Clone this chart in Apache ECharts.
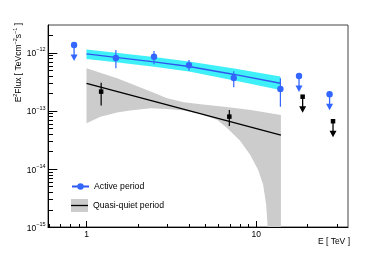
<!DOCTYPE html>
<html>
<head>
<meta charset="utf-8">
<script src="https://cdn.jsdelivr.net/npm/echarts@6/dist/echarts.min.js"></script>
<style>html,body{margin:0;padding:0;background:#fff}#c{width:374px;height:253px}</style>
</head>
<body>
<div id="c"></div>
<script>
// ---------------- data ----------------
const xTickValues = [1, 10];
const xTickLabels = ['1', '10'];
const xMinorTicks = [0.6, 0.7, 0.8, 0.9, 2, 3, 4, 5, 6, 7, 8, 9, 20, 30];
const yTickValues = [1e-15, 1e-14, 1e-13, 1e-12];
const yTickExponents = ['\u221215', '\u221214', '\u221213', '\u221212'];
const yMinorTicks = [2e-15, 3e-15, 4e-15, 5e-15, 6e-15, 7e-15, 8e-15, 9e-15,
                     2e-14, 3e-14, 4e-14, 5e-14, 6e-14, 7e-14, 8e-14, 9e-14,
                     2e-13, 3e-13, 4e-13, 5e-13, 6e-13, 7e-13, 8e-13, 9e-13,
                     2e-12];

// Active period: flux points with errors
const activeE       = [1.49, 2.50, 4.02, 7.38, 13.9];
const activeFlux    = [8.11e-13, 8.54e-13, 6.07e-13, 3.67e-13, 2.38e-13];
const activeErrLow  = [5.40e-13, 6.33e-13, 4.91e-13, 2.55e-13, 1.18e-13];
const activeErrHigh = [1.11e-12, 1.07e-12, 7.49e-13, 4.79e-13, 3.63e-13];
// Active period: upper limits
const activeUlE    = [0.845, 17.9, 27.1];
const activeUlFlux = [1.355e-12, 3.98e-13, 1.93e-13];
// Active period: fitted spectrum and its band
const activeFitE     = [1, 1.49, 2.50, 4.02, 7.43, 13.9];
const activeFitFlux  = [9.58e-13, 8.33e-13, 6.98e-13, 5.79e-13, 4.22e-13, 2.98e-13];
const activeBandHigh = [1.135e-12, 1.0e-12, 8.43e-13, 7.06e-13, 5.35e-13, 3.90e-13];
const activeBandLow  = [7.80e-13, 6.84e-13, 5.73e-13, 4.76e-13, 3.33e-13, 2.29e-13];

// Quasi-quiet period: flux points with errors
const quietE       = [1.22, 6.95];
const quietFlux    = [2.14e-13, 7.94e-14];
const quietErrLow  = [1.23e-13, 5.5e-14];
const quietErrHigh = [3.05e-13, 1.035e-13];
// Quasi-quiet period: upper limits
const quietUlE    = [18.8, 28.4];
const quietUlFlux = [1.75e-13, 6.62e-14];
// Quasi-quiet period: fitted spectrum and its band
const quietFitE    = [1, 14];
const quietFitFlux = [2.98e-13, 3.81e-14];
const quietBandHighE = [1, 1.516, 2.39, 2.99, 3.76, 4.71, 6.47, 9.30, 14.0];
const quietBandHigh  = [5.40e-13, 3.63e-13, 2.14e-13, 1.65e-13, 1.41e-13, 1.30e-13, 1.18e-13, 1.035e-13, 8.50e-14];
const quietBandLowE  = [1, 1.21, 1.516, 1.8, 2.39, 2.99, 3.76, 4.71, 5.91, 6.74, 8.04, 9.22, 10.27, 11.0, 11.46, 11.69, 11.85, 14.0];
const quietBandLow   = [6.12e-14, 7.94e-14, 9.31e-14, 1.016e-13, 1.11e-13, 1.079e-13, 1.008e-13, 8.85e-14, 6.98e-14, 5.08e-14, 3.04e-14, 1.75e-14, 9.64e-15, 5.33e-15, 2.42e-15, 1.01e-15, 1e-17, 1e-17];

// ---------------- styling ----------------
const FONT = "'Liberation Sans', Arial, Helvetica, sans-serif";
const BLUE = '#3366ff';
const BLUE_LINE = '#3056ee';
const CYAN = '#40f0f8';
const GRAY = '#cccccc';
const X_MIN = 0.593, X_MAX = 34.8, Y_MIN = 1e-15, Y_MAX = 3e-12;
const X_MID = 4, Y_MID = 1e-13;   // in-range anchor for the other coordinate of a tick

function idxOf(arr, v) {
  return arr.findIndex(t => Math.abs(Math.log10(t) - Math.log10(v)) < 1e-6);
}

function bandRender(topE, topF, lowE, lowF, fill) {
  return function (params, api) {
    if (params.dataIndex !== 0) return null;
    const pts = [];
    for (let i = 0; i < topE.length; i++) pts.push(api.coord([topE[i], topF[i]]));
    for (let i = lowE.length - 1; i >= 0; i--) pts.push(api.coord([lowE[i], lowF[i]]));
    const cs = params.coordSys;
    return { type: 'polygon', shape: { points: pts }, style: { fill: fill },
      clipPath: { type: 'rect', shape: { x: cs.x, y: cs.y, width: cs.width, height: cs.height } } };
  };
}

// axis tick marks drawn inward from the axes, positioned by the axes' own scales
function tickRender(dir, len) {
  return function (params, api) {
    const cs = params.coordSys;
    const p = api.coord([api.value(0), api.value(1)]);
    if (dir === 'x') {
      const x = Math.round(p[0]) + 0.5;
      const y0 = cs.y + cs.height;
      return { type: 'line', shape: { x1: x, y1: y0, x2: x, y2: y0 - len }, style: { stroke: '#000', lineWidth: 1 } };
    }
    const y = Math.round(p[1]) + 0.5;
    return { type: 'line', shape: { x1: cs.x, y1: y, x2: cs.x + len, y2: y }, style: { stroke: '#000', lineWidth: 1 } };
  };
}

function markerEl(kind, x, y, color) {
  if (kind === 'circle') return { type: 'circle', shape: { cx: x, cy: y, r: 3.2 }, style: { fill: color } };
  return { type: 'rect', shape: { x: x - 2.25, y: y - 2.25, width: 4.5, height: 4.5 }, style: { fill: color } };
}

function errRender(kind, color) {
  return function (params, api) {
    const p = api.coord([api.value(0), api.value(1)]);
    const lo = api.coord([api.value(0), api.value(2)]);
    const hi = api.coord([api.value(0), api.value(3)]);
    return { type: 'group', children: [
      { type: 'line', shape: { x1: p[0], y1: hi[1], x2: p[0], y2: lo[1] }, style: { stroke: color, lineWidth: 1.2 } },
      markerEl(kind, p[0], p[1], color) ] };
  };
}

function ulRender(kind, color) {
  return function (params, api) {
    const p = api.coord([api.value(0), api.value(1)]);
    const x = p[0], y = p[1];
    return { type: 'group', children: [
      { type: 'line', shape: { x1: x, y1: y, x2: x, y2: y + 11 }, style: { stroke: color, lineWidth: 1.3 } },
      { type: 'polygon', shape: { points: [[x - 3.5, y + 9.5], [x + 3.5, y + 9.5], [x, y + 16]] }, style: { fill: color } },
      markerEl(kind, x, y, color) ] };
  };
}

const quietIcon = 'image://data:image/svg+xml;charset=utf-8,' + encodeURIComponent(
  "<svg xmlns='http://www.w3.org/2000/svg' width='17' height='13'>" +
  "<rect x='0' y='0' width='17' height='13' fill='#cccccc'/>" +
  "<line x1='0' y1='6.5' x2='17' y2='6.5' stroke='#000000' stroke-width='1.3'/></svg>");

const chart = echarts.init(document.getElementById('c'), null, { renderer: 'canvas' });
const legendText = { fontSize: 8.7, color: '#000', fontFamily: FONT };

const option = {
  animation: false,
  backgroundColor: '#ffffff',
  grid: { left: 48, right: 26, top: 25, bottom: 26, show: true, borderColor: '#444', borderWidth: 1, backgroundColor: 'transparent' },
  legend: [
    { left: 71, top: 182, orient: 'vertical', padding: 0, itemWidth: 17, itemHeight: 8, selectedMode: false,
      data: ['Active period'], textStyle: legendText },
    { left: 71, top: 199, orient: 'vertical', padding: 0, itemWidth: 17, itemHeight: 13, selectedMode: false,
      data: [{ name: 'Quasi-quiet period', icon: quietIcon }], textStyle: legendText }
  ],
  xAxis: {
    type: 'log', logBase: 10, min: X_MIN, max: X_MAX, position: 'bottom',
    axisLine: { show: true, onZero: false, lineStyle: { color: '#000', width: 1 } },
    axisTick: { show: false },
    axisLabel: { show: true, customValues: xTickValues, margin: 3.5, fontSize: 8.5, color: '#000', fontFamily: FONT,
      formatter: v => xTickLabels[idxOf(xTickValues, v)] },
    splitLine: { show: false }, minorTick: { show: false },
    name: 'E [ TeV ]', nameLocation: 'end', nameGap: 2,
    nameTextStyle: { align: 'right', verticalAlign: 'top', padding: [10, 0, 0, 0], fontSize: 8.5, color: '#000', fontFamily: FONT }
  },
  yAxis: {
    type: 'log', logBase: 10, min: Y_MIN, max: Y_MAX, position: 'left',
    axisLine: { show: true, onZero: false, lineStyle: { color: '#000', width: 1 } },
    axisTick: { show: false },
    axisLabel: {
      show: true, customValues: yTickValues, margin: 2.5, color: '#000', fontFamily: FONT,
      formatter: v => '{b|10}{s|' + yTickExponents[idxOf(yTickValues, v)] + '}',
      rich: {
        b: { fontSize: 8.5, fontFamily: FONT, color: '#000', lineHeight: 9, padding: [4.6, 0, 0, 0], verticalAlign: 'bottom' },
        s: { fontSize: 5.5, fontFamily: FONT, color: '#000', lineHeight: 11.6, verticalAlign: 'top' }
      }
    },
    splitLine: { show: false }
  },
  graphic: [
    { type: 'text', x: 18.5, y: 23, rotation: Math.PI / 2,
      style: { text: 'E{s|2}Flux [ TeVcm{s|\u22122}s{s|\u22121} ]',
        fontSize: 8.5, fontFamily: FONT, fill: '#000', align: 'right', verticalAlign: 'middle', lineHeight: 12,
        rich: { s: { fontSize: 5.5, fontFamily: FONT, fill: '#000', lineHeight: 6, verticalAlign: 'top' } } } }
  ],
  series: [
    { name: 'x major ticks', type: 'custom', data: xTickValues.map(v => [v, Y_MID]), renderItem: tickRender('x', 6) },
    { name: 'x minor ticks', type: 'custom', data: xMinorTicks.map(v => [v, Y_MID]), renderItem: tickRender('x', 3) },
    { name: 'y major ticks', type: 'custom', data: yTickValues.map(v => [X_MID, v]), renderItem: tickRender('y', 9.3) },
    { name: 'y minor ticks', type: 'custom', data: yMinorTicks.map(v => [X_MID, v]), renderItem: tickRender('y', 5) },
    { name: 'Quasi-quiet period', type: 'custom', z: 1, silent: true, itemStyle: { color: GRAY },
      data: [[quietBandHighE[0], quietBandHigh[0]]],
      renderItem: bandRender(quietBandHighE, quietBandHigh, quietBandLowE, quietBandLow, GRAY) },
    { name: 'Active band', type: 'custom', z: 2, silent: true,
      data: [[activeFitE[0], activeBandHigh[0]]],
      renderItem: bandRender(activeFitE, activeBandHigh, activeFitE, activeBandLow, CYAN) },
    { name: 'Quasi-quiet fit', type: 'line', z: 3, silent: true, symbol: 'none',
      lineStyle: { color: '#000', width: 1.3 }, itemStyle: { color: '#000' },
      data: quietFitE.map((e, i) => [e, quietFitFlux[i]]) },
    { name: 'Active period', type: 'line', z: 4, silent: true, symbol: 'circle', showSymbol: false,
      lineStyle: { color: BLUE_LINE, width: 1.3 }, itemStyle: { color: BLUE },
      data: activeFitE.map((e, i) => [e, activeFitFlux[i]]) },
    { name: 'Active points', type: 'custom', z: 5, silent: true,
      data: activeE.map((e, i) => [e, activeFlux[i], activeErrLow[i], activeErrHigh[i]]), renderItem: errRender('circle', BLUE) },
    { name: 'Active upper limits', type: 'custom', z: 5, silent: true,
      data: activeUlE.map((e, i) => [e, activeUlFlux[i]]), renderItem: ulRender('circle', BLUE) },
    { name: 'Quiet points', type: 'custom', z: 5, silent: true,
      data: quietE.map((e, i) => [e, quietFlux[i], quietErrLow[i], quietErrHigh[i]]), renderItem: errRender('square', '#000') },
    { name: 'Quiet upper limits', type: 'custom', z: 5, silent: true,
      data: quietUlE.map((e, i) => [e, quietUlFlux[i]]), renderItem: ulRender('square', '#000') }
  ]
};
chart.setOption(option);
</script>
</body>
</html>
